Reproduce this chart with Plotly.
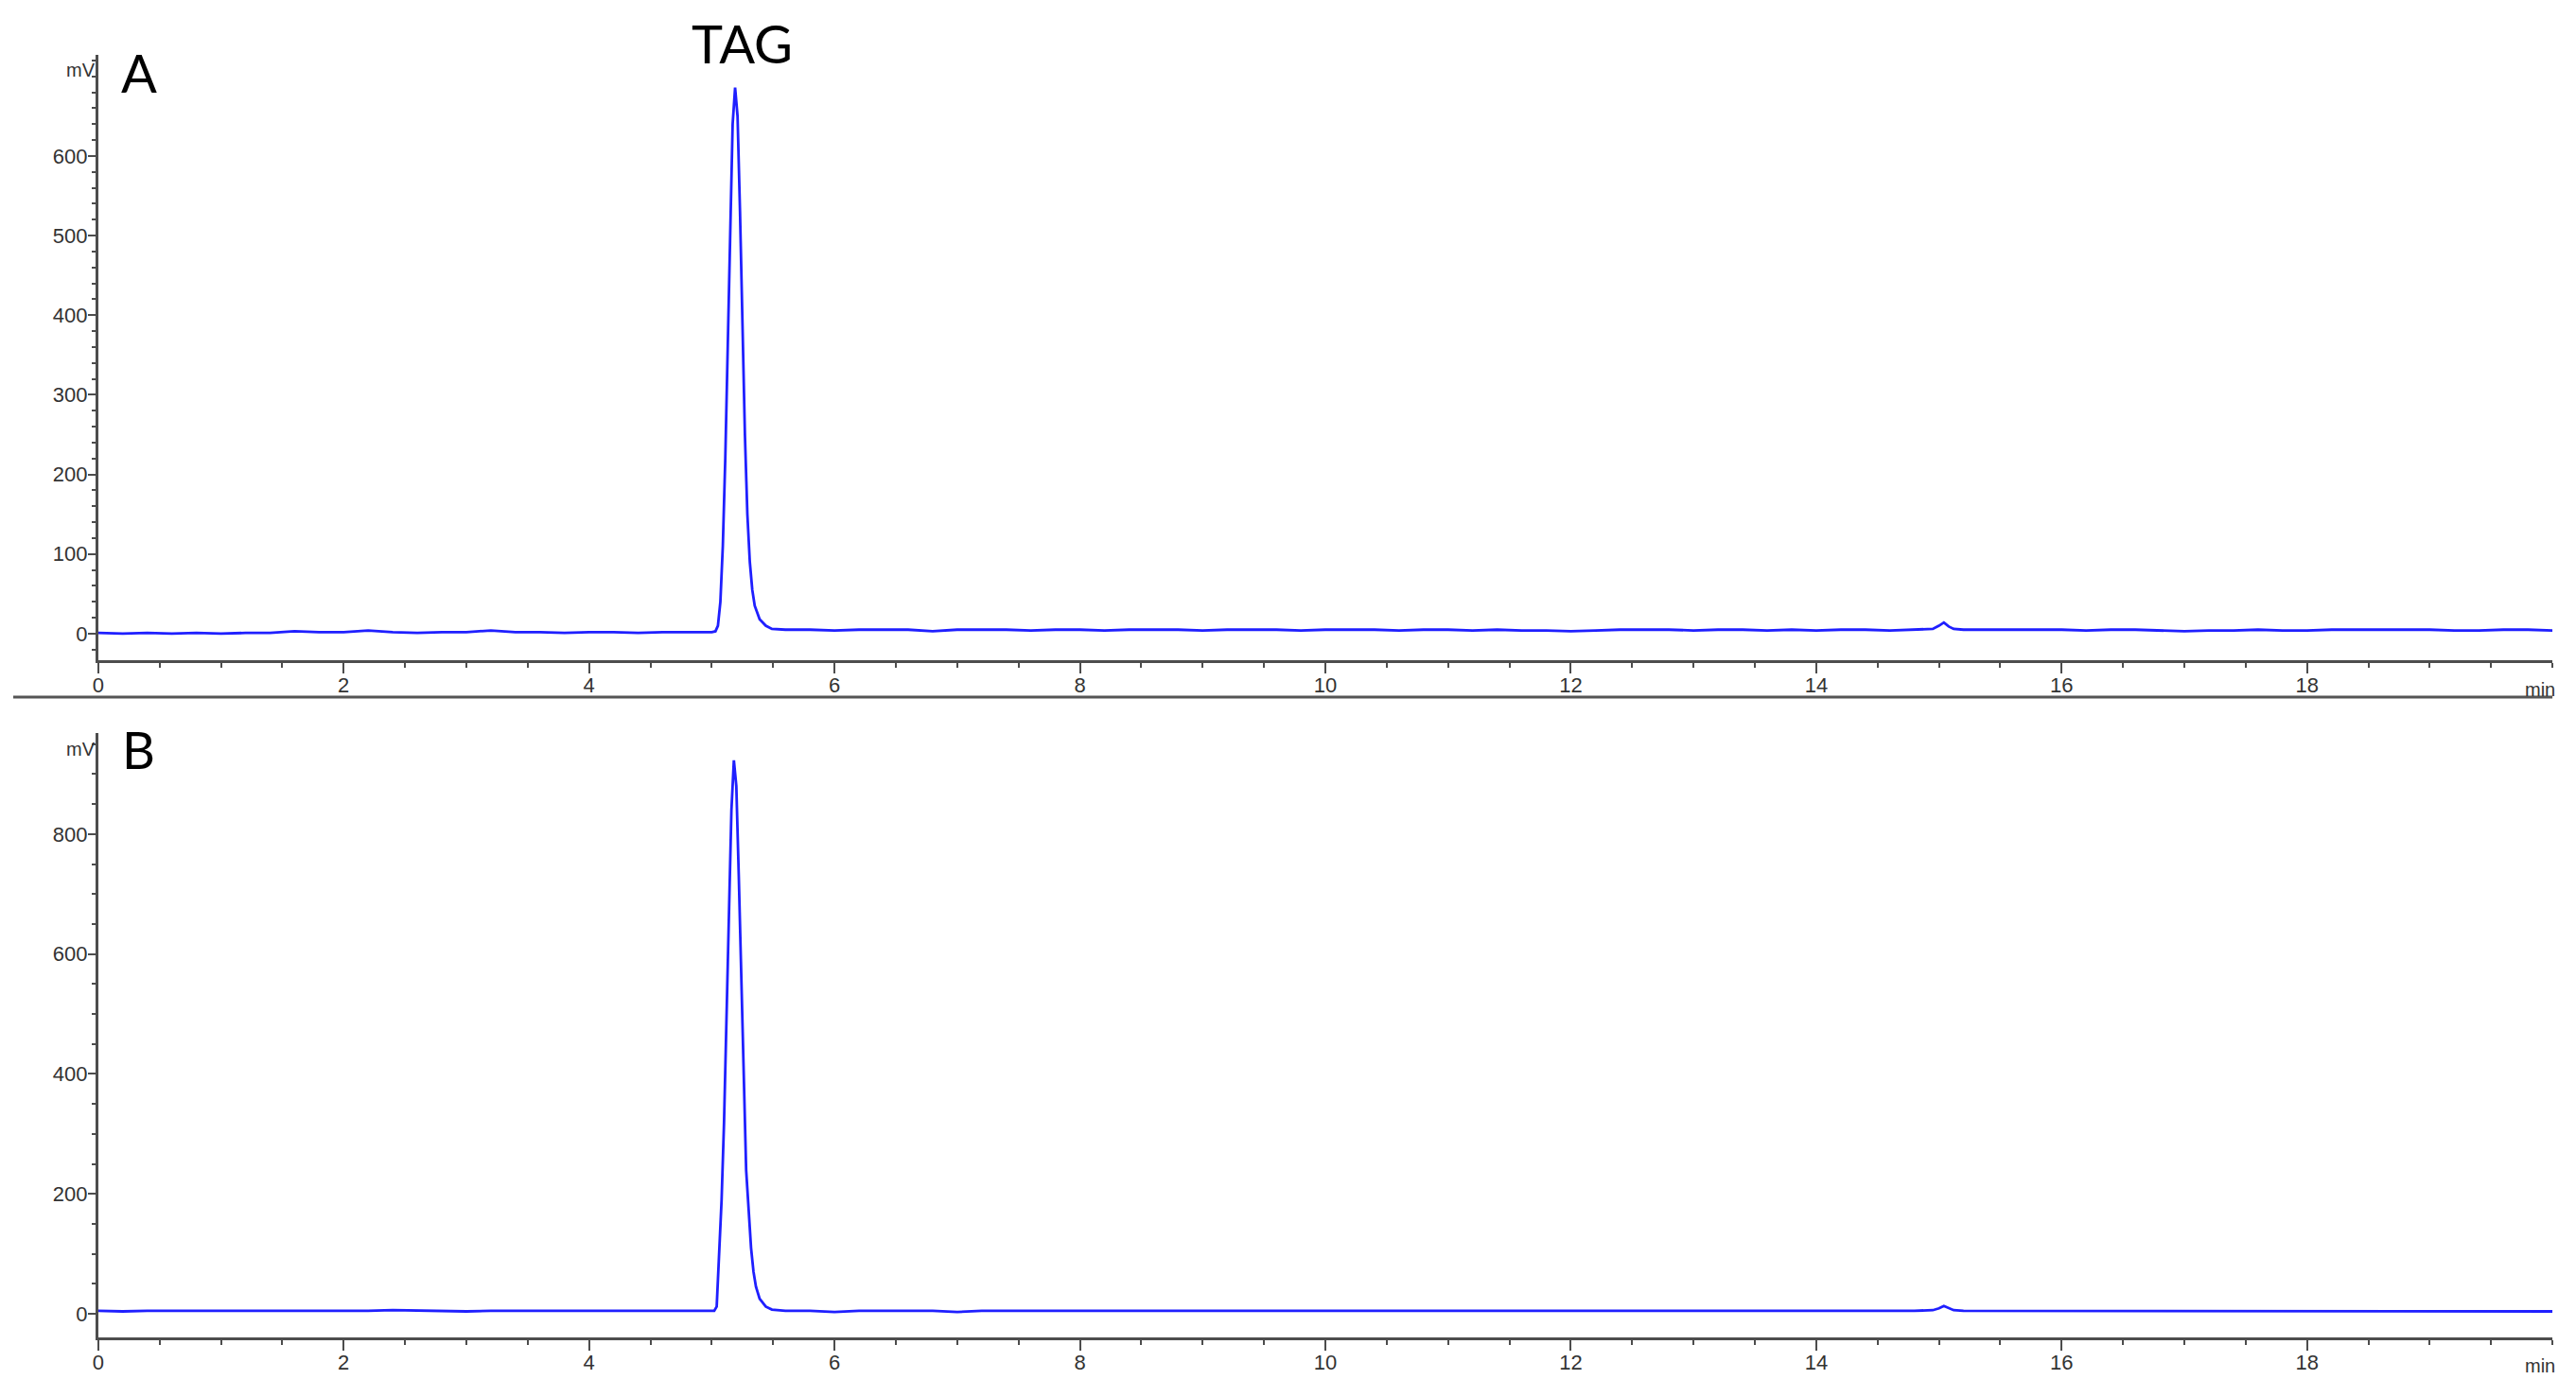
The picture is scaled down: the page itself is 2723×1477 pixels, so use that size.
"""Two stacked chromatograms (A, B) with the TAG peak, drawn with Plotly."""

import plotly.graph_objects as go

W, H = 2723, 1477
OFF = 8  # browser body margin, compensated in the paper positions

# retention time (min) and detector signal (mV), panel A
time_a = [
    0.0, 0.2, 0.4, 0.6, 0.8, 1.0, 1.2, 1.4, 1.6, 1.8,
    2.0, 2.2, 2.4, 2.6, 2.8, 3.0, 3.2, 3.4, 3.6, 3.8,
    4.0, 4.2, 4.4, 4.6, 4.8, 5.0, 5.03, 5.05, 5.07, 5.09,
    5.11, 5.13, 5.15, 5.17, 5.19, 5.21, 5.23, 5.25, 5.27, 5.29,
    5.31, 5.33, 5.35, 5.39, 5.44, 5.49, 5.55, 5.6, 5.8, 6.0,
    6.2, 6.4, 6.6, 6.8, 7.0, 7.2, 7.4, 7.6, 7.8, 8.0,
    8.2, 8.4, 8.6, 8.8, 9.0, 9.2, 9.4, 9.6, 9.8, 10.0,
    10.2, 10.4, 10.6, 10.8, 11.0, 11.2, 11.4, 11.6, 11.8, 12.0,
    12.2, 12.4, 12.6, 12.8, 13.0, 13.2, 13.4, 13.6, 13.8, 14.0,
    14.2, 14.4, 14.6, 14.8, 14.95, 15.0, 15.04, 15.08, 15.12, 15.2,
    15.4, 15.6, 15.8, 16.0, 16.2, 16.4, 16.6, 16.8, 17.0, 17.2,
    17.4, 17.6, 17.8, 18.0, 18.2, 18.4, 18.6, 18.8, 19.0, 19.2,
    19.4, 19.6, 19.8, 20.0,
]
mv_a = [
    1, 0, 1, 0, 1, 0, 1, 1, 3, 2,
    2, 4, 2, 1, 2, 2, 4, 2, 2, 1,
    2, 2, 1, 2, 2, 2, 3, 10, 40, 110,
    220, 360, 510, 640, 686, 650, 530, 390, 250, 150,
    90, 55, 35, 18, 10, 6, 5, 5, 5, 4,
    5, 5, 5, 3, 5, 5, 5, 4, 5, 5,
    4, 5, 5, 5, 4, 5, 5, 5, 4, 5,
    5, 5, 4, 5, 5, 4, 5, 4, 4, 3,
    4, 5, 5, 5, 4, 5, 5, 4, 5, 4,
    5, 5, 4, 5, 6, 10, 14, 9, 6, 5,
    5, 5, 5, 5, 4, 5, 5, 4, 3, 4,
    4, 5, 4, 4, 5, 5, 5, 5, 5, 4,
    4, 5, 5, 4,
]

# panel B
time_b = [
    0.0, 0.2, 0.4, 0.6, 0.8, 1.0, 1.2, 1.4, 1.6, 1.8,
    2.0, 2.2, 2.4, 2.6, 2.8, 3.0, 3.2, 3.4, 3.6, 3.8,
    4.0, 4.2, 4.4, 4.6, 4.8, 5.0, 5.02, 5.04, 5.06, 5.08,
    5.10, 5.12, 5.14, 5.16, 5.18, 5.20, 5.22, 5.24, 5.26, 5.28,
    5.30, 5.32, 5.34, 5.36, 5.39, 5.44, 5.49, 5.6, 5.8, 6.0,
    6.2, 6.4, 6.6, 6.8, 7.0, 7.2, 7.4, 7.6, 7.8, 8.0,
    8.2, 8.4, 8.6, 8.8, 9.0, 9.2, 9.4, 9.6, 9.8, 10.0,
    10.2, 10.4, 10.6, 10.8, 11.0, 11.2, 11.4, 11.6, 11.8, 12.0,
    12.2, 12.4, 12.6, 12.8, 13.0, 13.2, 13.4, 13.6, 13.8, 14.0,
    14.2, 14.4, 14.6, 14.8, 14.95, 15.0, 15.04, 15.08, 15.12, 15.2,
    15.4, 15.6, 15.8, 16.0, 16.2, 16.4, 16.6, 16.8, 17.0, 17.2,
    17.4, 17.6, 17.8, 18.0, 18.2, 18.4, 18.6, 18.8, 19.0, 19.2,
    19.4, 19.6, 19.8, 20.0,
]
mv_b = [
    5, 4, 5, 5, 5, 4, 5, 5, 5, 4,
    5, 5, 6, 5, 5, 4, 5, 5, 5, 4,
    5, 5, 5, 4, 5, 5, 5, 12, 90, 190,
    320, 490, 670, 840, 923, 880, 730, 550, 380, 240,
    175, 110, 70, 45, 25, 12, 7, 5, 5, 3,
    5, 5, 4, 5, 3, 5, 5, 5, 5, 5,
    5, 5, 5, 4, 5, 5, 5, 5, 4, 5,
    5, 5, 5, 5, 4, 5, 5, 5, 5, 4,
    5, 5, 5, 5, 4, 5, 5, 5, 5, 5,
    5, 5, 5, 5, 6, 9, 13, 9, 6, 5,
    5, 5, 5, 5, 5, 5, 4, 4, 5, 4,
    5, 4, 5, 4, 5, 5, 5, 5, 5, 5,
    5, 5, 5, 4,
]

x_ticks = [0, 2, 4, 6, 8, 10, 12, 14, 16, 18]
y_ticks_a = [0, 100, 200, 300, 400, 500, 600]
y_ticks_b = [0, 200, 400, 600, 800]


def px(x):
    return (x - OFF) / W


def py(y):
    return 1 - (y - OFF) / H


LINE = "#1f1fff"
AXIS = "#4d4d4d"
TXT = "#333333"
TICKFONT = dict(family="Liberation Sans, Arial", size=22, color=TXT)
SMALL = dict(family="Liberation Sans, Arial", size=20, color=TXT)
BIG = dict(family="Lato, Open Sans", size=56, color="black")

fig = go.Figure()
fig.add_trace(go.Scatter(x=time_a, y=mv_a, mode="lines", line=dict(color=LINE, width=2.8),
                         xaxis="x", yaxis="y", hoverinfo="x+y"))
fig.add_trace(go.Scatter(x=time_b, y=mv_b, mode="lines", line=dict(color=LINE, width=2.8),
                         xaxis="x2", yaxis="y2", hoverinfo="x+y"))

xcommon = dict(
    range=[0, 19.999], tickmode="array", tickvals=x_ticks, ticks="outside",
    ticklen=11, tickwidth=2, tickcolor=AXIS, showline=True, linecolor=AXIS,
    linewidth=3, showgrid=False, zeroline=False, tickfont=TICKFONT,
    ticklabelstandoff=-6,
    minor=dict(ticks="outside", ticklen=5, tickwidth=2, tickcolor=AXIS, dtick=0.5, tick0=0),
    domain=[px(98), px(2698)],
)
ycommon = dict(
    tickmode="array", ticks="outside", ticklen=8, tickwidth=2, tickcolor=AXIS,
    showline=True, linecolor=AXIS, linewidth=3, showgrid=False, zeroline=False,
    tickfont=TICKFONT, ticklabelstandoff=-4,
)

fig.update_layout(
    width=W, height=H, margin=dict(l=0, r=0, t=0, b=0),
    paper_bgcolor="white", plot_bgcolor="white", showlegend=False,
    xaxis=dict(xcommon, anchor="y"),
    yaxis=dict(ycommon, anchor="x", domain=[py(698), py(58)], range=[-33.3, 727],
               tickvals=y_ticks_a,
               minor=dict(ticks="outside", ticklen=4, tickwidth=2, tickcolor=AXIS,
                          dtick=20, tick0=0)),
    xaxis2=dict(xcommon, anchor="y2"),
    yaxis2=dict(ycommon, anchor="x2", domain=[py(1414), py(775)], range=[-39.4, 968.5],
                tickvals=y_ticks_b,
                minor=dict(ticks="outside", ticklen=4, tickwidth=2, tickcolor=AXIS,
                           dtick=50, tick0=0)),
)

# separator between the two panels
fig.add_shape(type="line", xref="paper", yref="paper", x0=px(8), x1=px(2698),
              y0=py(737), y1=py(737), line=dict(color="#555555", width=3))

labels = [
    ("mV", 97, 74, "right", SMALL),
    ("mV", 97, 792, "right", SMALL),
    ("min", 2703, 729, "right", SMALL),
    ("min", 2703, 1444, "right", SMALL),
    ("A", 141, 76, "center", BIG),
    ("B", 141, 793, "center", dict(BIG, size=54)),
    ("TAG", 780, 46, "center", BIG),
]
for text, x, y, anchor, font in labels:
    fig.add_annotation(text=text, x=px(x), y=py(y), xref="paper", yref="paper",
                       xanchor=anchor, yanchor="middle", showarrow=False, font=font)

fig.write_html("out.html")
